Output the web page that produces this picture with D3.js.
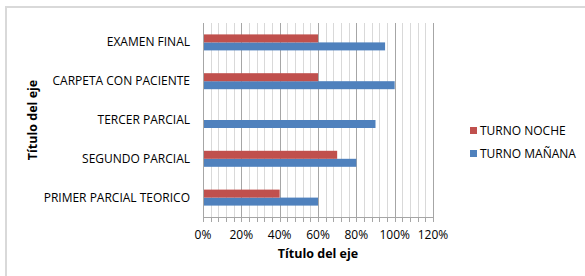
<!DOCTYPE html>
<html>
<head>
<meta charset="utf-8">
<script src="https://cdn.jsdelivr.net/npm/d3@7"></script>
<style>
  body { margin: 0; background: #fff; }
  text { font-family: "Open Sans", sans-serif; fill: #000; }
</style>
</head>
<body>
<div id="draw-area"></div>
<script>
'use strict'
var categories = ["PRIMER PARCIAL TEORICO", "SEGUNDO PARCIAL", "TERCER PARCIAL", "CARPETA CON PACIENTE", "EXAMEN FINAL"];
var series = ["TURNO MAÑANA", "TURNO NOCHE"];
var manana = [0.60, 0.80, 0.90, 1.00, 0.95];
var noche = [0.40, 0.70, 0, 0.60, 0.60];
var xTicks = [0, 0.2, 0.4, 0.6, 0.8, 1.0, 1.2];
var colors = {"TURNO MAÑANA": "#4f81bd", "TURNO NOCHE": "#c0504d"};

var W = 585, H = 276;
var margin = {top: 23, left: 203, right: 152, bottom: 59};
var width = W - margin.left - margin.right;   // 230
var height = H - margin.top - margin.bottom;  // 194

var svg = d3.select("#draw-area").append("svg")
    .attr("width", W).attr("height", H);

// chart-area border (only top/left visible)
svg.append("rect")
    .attr("x", 6).attr("y", 7)
    .attr("width", W + 20).attr("height", H + 20)
    .attr("fill", "none").attr("stroke", "#d9d9d9").attr("stroke-width", 2);

var g = svg.append("g").attr("transform", "translate(" + margin.left + "," + margin.top + ")");

var x = d3.scaleLinear().domain([0, 1.2]).range([0, width]);
var y = d3.scaleBand().domain(categories.slice().reverse()).range([0, height]);
var inner = d3.scaleBand().domain(["TURNO NOCHE", "TURNO MAÑANA"])
    .range([y.bandwidth() / 2 - 8, y.bandwidth() / 2 + 8]);

// minor gridlines every 4%
var minor = d3.range(1, 30).map(function(i){ return i * 0.04; }).filter(function(v){ return Math.abs(v / 0.2 - Math.round(v / 0.2)) > 1e-6; });
g.selectAll(".minor").data(minor).enter().append("line")
    .attr("x1", function(d){ return Math.round(x(d)) + 0.5; })
    .attr("x2", function(d){ return Math.round(x(d)) + 0.5; })
    .attr("y1", 0).attr("y2", height)
    .attr("stroke", "#d9d9d9").attr("stroke-width", 1);
g.selectAll(".major").data(xTicks.slice(1)).enter().append("line")
    .attr("x1", function(d){ return Math.round(x(d)) + 0.5; })
    .attr("x2", function(d){ return Math.round(x(d)) + 0.5; })
    .attr("y1", 0).attr("y2", height)
    .attr("stroke", "#a6a6a6").attr("stroke-width", 1);

// bars
var rows = categories.map(function(c, i){
    return {cat: c, vals: [{s: "TURNO MAÑANA", v: manana[i]}, {s: "TURNO NOCHE", v: noche[i]}]};
});
var grp = g.selectAll(".grp").data(rows).enter().append("g")
    .attr("transform", function(d){ return "translate(0," + y(d.cat) + ")"; });
grp.selectAll("rect").data(function(d){ return d.vals.filter(function(e){ return e.v > 0; }); })
    .enter().append("rect")
    .attr("x", 0)
    .attr("y", function(d){ return inner(d.s); })
    .attr("width", function(d){ return x(d.v); })
    .attr("height", inner.bandwidth())
    .attr("fill", function(d){ return colors[d.s]; });

// x axis with minor ticks
var xAxis = g.append("g").attr("transform", "translate(0," + height + ")");
xAxis.append("line").attr("x1", 0).attr("x2", width).attr("y1", 0.5).attr("y2", 0.5).attr("stroke", "#a6a6a6");
xAxis.selectAll(".tk").data(minor.concat(xTicks)).enter().append("line")
    .attr("x1", function(d){ return Math.round(x(d)) + 0.5; })
    .attr("x2", function(d){ return Math.round(x(d)) + 0.5; })
    .attr("y1", 0).attr("y2", 5).attr("stroke", "#a6a6a6");
xAxis.selectAll(".lbl").data(xTicks).enter().append("text")
    .attr("x", function(d){ return x(d); })
    .attr("y", 22)
    .attr("text-anchor", "middle")
    .style("font-size", "12px")
    .text(d3.format(".0%"));

// y axis line
g.append("line").attr("x1", 0.5).attr("x2", 0.5).attr("y1", 0).attr("y2", height + 5).attr("stroke", "#a6a6a6");
g.selectAll(".ycat").data(categories).enter().append("text")
    .attr("x", -13)
    .attr("y", function(d){ return y(d) + y.bandwidth() / 2 + 4; })
    .attr("text-anchor", "end")
    .style("font-size", "12px")
    .text(function(d){ return d; });

// axis titles
svg.append("text")
    .attr("x", margin.left + width / 2).attr("y", 258)
    .attr("text-anchor", "middle")
    .style("font-size", "12.5px").style("font-weight", "bold")
    .text("Título del eje");
svg.append("text")
    .attr("transform", "translate(37," + (margin.top + height / 2) + ") rotate(-90)")
    .attr("text-anchor", "middle")
    .style("font-size", "12.5px").style("font-weight", "bold")
    .text("Título del eje");

// legend
var legend = svg.append("g").attr("transform", "translate(470,125)");
var lg = legend.selectAll("g").data(["TURNO NOCHE", "TURNO MAÑANA"]).enter().append("g")
    .attr("transform", function(d, i){ return "translate(0," + (i * 23) + ")"; });
lg.append("rect").attr("x", 0).attr("y", 2).attr("width", 7).attr("height", 7)
    .attr("fill", function(d){ return colors[d]; });
lg.append("text").attr("x", 10).attr("y", 10)
    .style("font-size", "12px")
    .text(function(d){ return d; });
</script>
</body>
</html>
